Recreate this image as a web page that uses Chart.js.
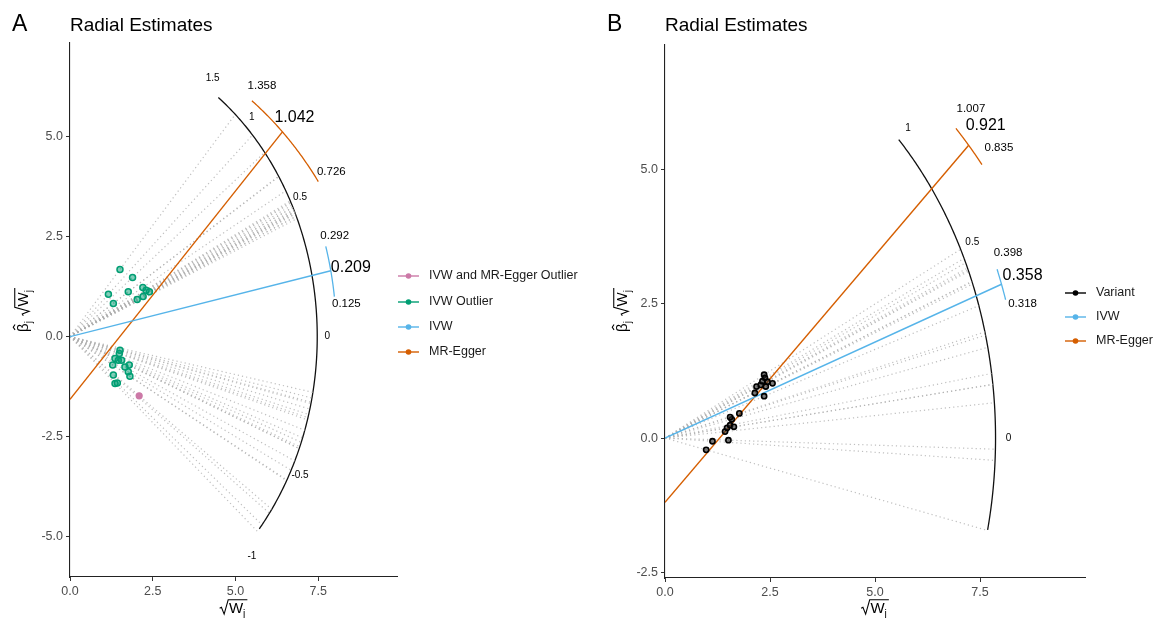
<!DOCTYPE html>
<html><head><meta charset="utf-8">
<script src="https://cdn.jsdelivr.net/npm/chart.js@4.4.0/dist/chart.umd.min.js"></script>
<style>
html,body{margin:0;padding:0;background:#fff;}
#wrap{position:relative;width:1156px;height:618px;overflow:hidden;background:#fff;}
canvas{position:absolute;top:0;}
</style></head><body>
<div id="wrap">
<canvas id="cA" width="578" height="618" style="left:0;width:578px;height:618px"></canvas>
<canvas id="cB" width="578" height="618" style="left:578px;width:578px;height:618px"></canvas>
</div>
<script>
// ================= Panel A data =================
const ivwOutlierX_A = [1.51,1.89,1.16,1.31,1.76,2.20,2.30,2.40,2.21,2.03,1.51,1.49,1.36,1.46,1.56,1.29,1.66,1.79,1.76,1.81,1.31,1.43,1.36];
const ivwOutlierY_A = [1.68,1.48,1.06,0.83,1.12,1.23,1.16,1.12,1.00,0.93,-0.34,-0.42,-0.55,-0.59,-0.59,-0.71,-0.76,-0.71,-0.88,-0.99,-0.96,-1.16,-1.17];
const bothOutlierX_A = [2.09];
const bothOutlierY_A = [-1.48];
// ratio estimates of the remaining (non-outlier) variants, shown only as dotted lines
const otherRatio_A = [0.43,0.44,0.44,0.45,0.46,0.46,0.47,0.48,0.48,0.49,0.50,0.51,-0.19,-0.21,-0.23,-0.25,-0.27,-0.29,-0.33,-0.36];
const ivw_A = [0.209, 0.125, 0.292];      // estimate, lower, upper
const egger_A = [1.042, 0.726, 1.358];    // estimate, lower, upper
const eggerIntercept_A = -1.57;
const arcTicks_A = [-1, -0.5, 0, 0.5, 1, 1.5];
const xTicks_A = [0, 2.5, 5, 7.5];
const yTicks_A = [-5, -2.5, 0, 2.5, 5];
const legendLabels_A = ['IVW and MR-Egger Outlier', 'IVW Outlier', 'IVW', 'MR-Egger'];

// ================= Panel B data =================
const variantX_B = [0.98,1.13,1.51,1.43,1.48,1.55,1.59,1.55,1.64,1.77,2.14,2.18,2.28,2.36,2.38,2.40,2.36,2.56,2.32,2.44];
const variantY_B = [-0.22,-0.06,-0.04,0.12,0.19,0.24,0.35,0.39,0.21,0.46,0.84,0.96,0.99,1.18,1.12,0.96,0.78,1.02,1.06,1.05];
const ivw_B = [0.358, 0.318, 0.398];
const egger_B = [0.921, 0.835, 1.007];
const eggerIntercept_B = -1.20;
const arcTicks_B = [0, 0.5, 1];
const xTicks_B = [0, 2.5, 5, 7.5];
const yTicks_B = [-2.5, 0, 2.5, 5];
const legendLabels_B = ['Variant', 'IVW', 'MR-Egger'];

// ================= styling / layout =================
const FF = '"Liberation Sans", Arial, Helvetica, sans-serif';
const C_IVW = '#56B4E9', C_EGG = '#D55E00', C_OUT = '#009E73', C_BOTH = '#CC79A7', C_VAR = '#000000';
const DOT = 'rgba(175,175,175,0.8)';

const layoutA = {
  letter:'A', letterX:12, titleX:70, titleY:26,
  pad:{left:0,right:181,top:43,bottom:0}, yWidth:70, xHeight:41,
  xMin:0, xMax:9.88, yMin:-6.01, yMax:7.34,
  Rarc:7.47, arcFrom:-0.84, arcTo:1.333, tickR:0.3,
  Rivw:8.05, Regg:9.27,
  eggLab:{hi:[10,-15], lo:[13,-10], est:[-8,-14]},
  ivwLab:{hi:[9,-11], lo:[12,7], est:[0,-3]},
  legendX:398, legendY:[276,302,327,352], legendColors:[C_BOTH,C_OUT,C_IVW,C_EGG],
  xTitle:[233.5,608], yTitle:[23,310]
};
const layoutB = {
  letter:'B', letterX:29, titleX:87, titleY:26,
  pad:{left:0,right:71,top:45,bottom:0}, yWidth:87, xHeight:40,
  xMin:0, xMax:10.0, yMin:-2.61, yMax:7.33,
  Rarc:7.87, arcFrom:-0.223, arcTo:1.0, tickR:0.31,
  Rivw:8.51, Regg:9.83,
  eggLab:{hi:[15,-20], lo:[17,-17], est:[-3,-20]},
  ivwLab:{hi:[11,-16], lo:[17,4], est:[1,-9]},
  legendX:487, legendY:[293,317,341], legendColors:[C_VAR,C_IVW,C_EGG],
  xTitle:[297,608], yTitle:[44,310]
};

function radialEnd(cx, cy, R, slope){
  const a = Math.atan(slope);
  return {x: cx + R*Math.cos(a), y: cy + R*Math.sin(a)};
}
function pts(xs, ys){ return xs.map((x,i)=>({x:x, y:ys[i]})); }

function mathLabel(ctx, cx, cy, size, beta, rot, color){
  ctx.save();
  ctx.translate(cx, cy);
  if (rot) ctx.rotate(-Math.PI/2);
  const F = s => s + 'px ' + FF;
  ctx.font = F(size);
  const wB = beta ? ctx.measureText('\u03B2').width : 0;
  const wW = ctx.measureText('W').width;
  ctx.font = F(size*0.68);
  const wj = ctx.measureText('j').width;
  const rad = size*0.62, gap = beta ? size*0.35 : 0;
  const total = (beta ? wB + wj + gap : 0) + rad + wW + wj + 2;
  let x = -total/2;
  const yb = size*0.35;
  ctx.fillStyle = color; ctx.strokeStyle = color; ctx.lineWidth = Math.max(1, size/14);
  ctx.textBaseline = 'alphabetic'; ctx.textAlign = 'left';
  if (beta){
    ctx.font = F(size); ctx.fillText('\u03B2', x, yb);
    const hx = x + wB*0.55, hy = yb - size*1.0;
    ctx.beginPath(); ctx.moveTo(hx - size*0.18, hy + size*0.12); ctx.lineTo(hx, hy); ctx.lineTo(hx + size*0.18, hy + size*0.12); ctx.stroke();
    ctx.font = F(size*0.68); ctx.fillText('j', x + wB, yb + size*0.22);
    x += wB + wj + gap;
  }
  const top = yb - size*0.9, bot = yb + size*0.06;
  ctx.beginPath();
  ctx.moveTo(x, yb - size*0.33);
  ctx.lineTo(x + size*0.12, yb - size*0.4);
  ctx.lineTo(x + size*0.3, bot);
  ctx.lineTo(x + rad - size*0.05, top);
  ctx.lineTo(x + rad + wW + wj + 2, top);
  ctx.stroke();
  ctx.font = F(size); ctx.fillText('W', x + rad, yb);
  ctx.font = F(size*0.68); ctx.fillText('j', x + rad + wW, yb + size*0.22);
  ctx.restore();
}

function decorPlugin(L, D){
  return {
    id:'decor',
    beforeDatasetsDraw(chart){
      const ctx = chart.ctx, xs = chart.scales.x, ys = chart.scales.y;
      ctx.save();
      ctx.strokeStyle = '#111'; ctx.lineWidth = 1.3;
      ctx.beginPath();
      const a0 = Math.atan(L.arcFrom), a1 = Math.atan(L.arcTo);
      for (let i=0;i<=200;i++){
        const a = a0 + (a1-a0)*i/200;
        const X = xs.getPixelForValue(L.Rarc*Math.cos(a)), Y = ys.getPixelForValue(L.Rarc*Math.sin(a));
        if (i===0) ctx.moveTo(X,Y); else ctx.lineTo(X,Y);
      }
      ctx.stroke();
      ctx.restore();
    },
    afterDatasetsDraw(chart){
      const ctx = chart.ctx, xs = chart.scales.x, ys = chart.scales.y;
      const ciArc = (cy, R, s0, s1, color) => {
        ctx.save(); ctx.strokeStyle = color; ctx.lineWidth = 1.3; ctx.beginPath();
        const a0 = Math.atan(s0), a1 = Math.atan(s1);
        for (let i=0;i<=60;i++){
          const a = a0 + (a1-a0)*i/60;
          const X = xs.getPixelForValue(R*Math.cos(a)), Y = ys.getPixelForValue(cy + R*Math.sin(a));
          if (i===0) ctx.moveTo(X,Y); else ctx.lineTo(X,Y);
        }
        ctx.stroke(); ctx.restore();
      };
      ciArc(0, L.Rivw, D.ivw[1], D.ivw[2], C_IVW);
      ciArc(D.eggInt, L.Regg, D.egg[1], D.egg[2], C_EGG);
    },
    afterDraw(chart){
      const ctx = chart.ctx, xs = chart.scales.x, ys = chart.scales.y;
      const P = (p) => [xs.getPixelForValue(p.x), ys.getPixelForValue(p.y)];
      ctx.save();
      ctx.fillStyle = '#000';
      ctx.textBaseline = 'middle';
      ctx.font = '10px ' + FF; ctx.textAlign = 'center';
      D.arcTicks.forEach(v => {
        const [X,Y] = P(radialEnd(0,0,L.Rarc + L.tickR, v));
        ctx.fillText(String(v), X, Y);
      });
      const lab = (cy, R, vals, off) => {
        const [hx,hy] = P(radialEnd(0,cy,R,vals[2]));
        const [lx,ly] = P(radialEnd(0,cy,R,vals[1]));
        const [ex,ey] = P(radialEnd(0,cy,R,vals[0]));
        ctx.font = '11.5px ' + FF; ctx.textAlign = 'center';
        ctx.fillText(vals[2].toFixed(3), hx + off.hi[0], hy + off.hi[1]);
        ctx.fillText(vals[1].toFixed(3), lx + off.lo[0], ly + off.lo[1]);
        ctx.font = '16px ' + FF; ctx.textAlign = 'left';
        ctx.fillText(vals[0].toFixed(3), ex + off.est[0], ey + off.est[1]);
      };
      lab(D.eggInt, L.Regg, D.egg, L.eggLab);
      lab(0, L.Rivw, D.ivw, L.ivwLab);
      ctx.textAlign = 'left';
      ctx.font = '23px ' + FF; ctx.fillText(L.letter, L.letterX, L.titleY - 1);
      ctx.font = '19px ' + FF; ctx.fillText('Radial Estimates', L.titleX, L.titleY);
      D.legend.forEach((t,i) => {
        const y = L.legendY[i], c = L.legendColors[i];
        ctx.strokeStyle = c; ctx.lineWidth = 1.4;
        ctx.beginPath(); ctx.moveTo(L.legendX, y); ctx.lineTo(L.legendX + 21, y); ctx.stroke();
        ctx.fillStyle = c; ctx.beginPath(); ctx.arc(L.legendX + 10.5, y, 2.8, 0, Math.PI*2); ctx.fill();
        ctx.fillStyle = '#1a1a1a'; ctx.font = '12.5px ' + FF;
        ctx.fillText(t, L.legendX + 31, y);
      });
      mathLabel(ctx, L.xTitle[0], L.xTitle[1], 15, false, false, '#000');
      mathLabel(ctx, L.yTitle[0], L.yTitle[1], 15, true, true, '#000');
      ctx.restore();
    }
  };
}

function axis(min, max, ticks, fitFn){
  return {
    type:'linear', min:min, max:max,
    afterBuildTicks: s => { s.ticks = ticks.map(v => ({value:v})); },
    afterFit: fitFn,
    ticks:{ callback: v => Number(v).toFixed(1), color:'#4d4d4d', font:{family:FF, size:12.5}, padding:3, autoSkip:false, maxRotation:0 },
    grid:{ display:true, drawOnChartArea:false, drawTicks:true, tickLength:4, color:'#333', lineWidth:1 },
    border:{ display:true, color:'#222', width:1.1 }
  };
}

function lineDS(p0, p1, color, width, dash){
  return { type:'scatter', data:[p0,p1], showLine:true, borderColor:color, backgroundColor:color,
           borderWidth:width, borderDash:dash || [], pointRadius:0, pointHoverRadius:0, fill:false, tension:0 };
}

function makeChart(id, L, D, pointSets, ratios){
  const ds = [];
  pointSets.forEach(s => ds.push({ type:'scatter', data:s.data, pointRadius:s.r, pointBorderWidth:s.bw,
      borderColor:s.color, backgroundColor:s.fill, pointStyle:'circle' }));
  ds.push(lineDS({x:0,y:0}, radialEnd(0,0,L.Rivw,D.ivw[0]), C_IVW, 1.4));
  ds.push(lineDS({x:0,y:D.eggInt}, radialEnd(0,D.eggInt,L.Regg,D.egg[0]), C_EGG, 1.4));
  ratios.forEach(r => ds.push(lineDS({x:0,y:0}, radialEnd(0,0,L.Rarc,r), DOT, 1.2, [1.2,3])));
  return new Chart(document.getElementById(id), {
    type:'scatter',
    data:{ datasets: ds },
    options:{
      responsive:false, animation:false, devicePixelRatio:1,
      layout:{ padding:L.pad, autoPadding:false },
      plugins:{ legend:{display:false}, tooltip:{enabled:false}, title:{display:false} },
      scales:{
        x: axis(L.xMin, L.xMax, D.xTicks, s => { s.height = L.xHeight; }),
        y: axis(L.yMin, L.yMax, D.yTicks, s => { s.width = L.yWidth; })
      }
    },
    plugins:[decorPlugin(L, D)]
  });
}

// ----- Panel A -----
const ratiosA = otherRatio_A
  .concat(ivwOutlierX_A.map((x,i) => ivwOutlierY_A[i]/x))
  .concat(bothOutlierX_A.map((x,i) => bothOutlierY_A[i]/x));
makeChart('cA', layoutA,
  { ivw:ivw_A, egg:egger_A, eggInt:eggerIntercept_A, arcTicks:arcTicks_A, xTicks:xTicks_A, yTicks:yTicks_A, legend:legendLabels_A },
  [ { data:pts(ivwOutlierX_A, ivwOutlierY_A), color:C_OUT, fill:'rgba(0,158,115,0.5)', r:3, bw:1.5 },
    { data:pts(bothOutlierX_A, bothOutlierY_A), color:C_BOTH, fill:C_BOTH, r:3, bw:1.2 } ],
  ratiosA);

// ----- Panel B -----
const ratiosB = variantX_B.map((x,i) => variantY_B[i]/x);
makeChart('cB', layoutB,
  { ivw:ivw_B, egg:egger_B, eggInt:eggerIntercept_B, arcTicks:arcTicks_B, xTicks:xTicks_B, yTicks:yTicks_B, legend:legendLabels_B },
  [ { data:pts(variantX_B, variantY_B), color:C_VAR, fill:'rgba(40,40,40,0.6)', r:2.6, bw:1.6 } ],
  ratiosB);
</script>
</body></html>
